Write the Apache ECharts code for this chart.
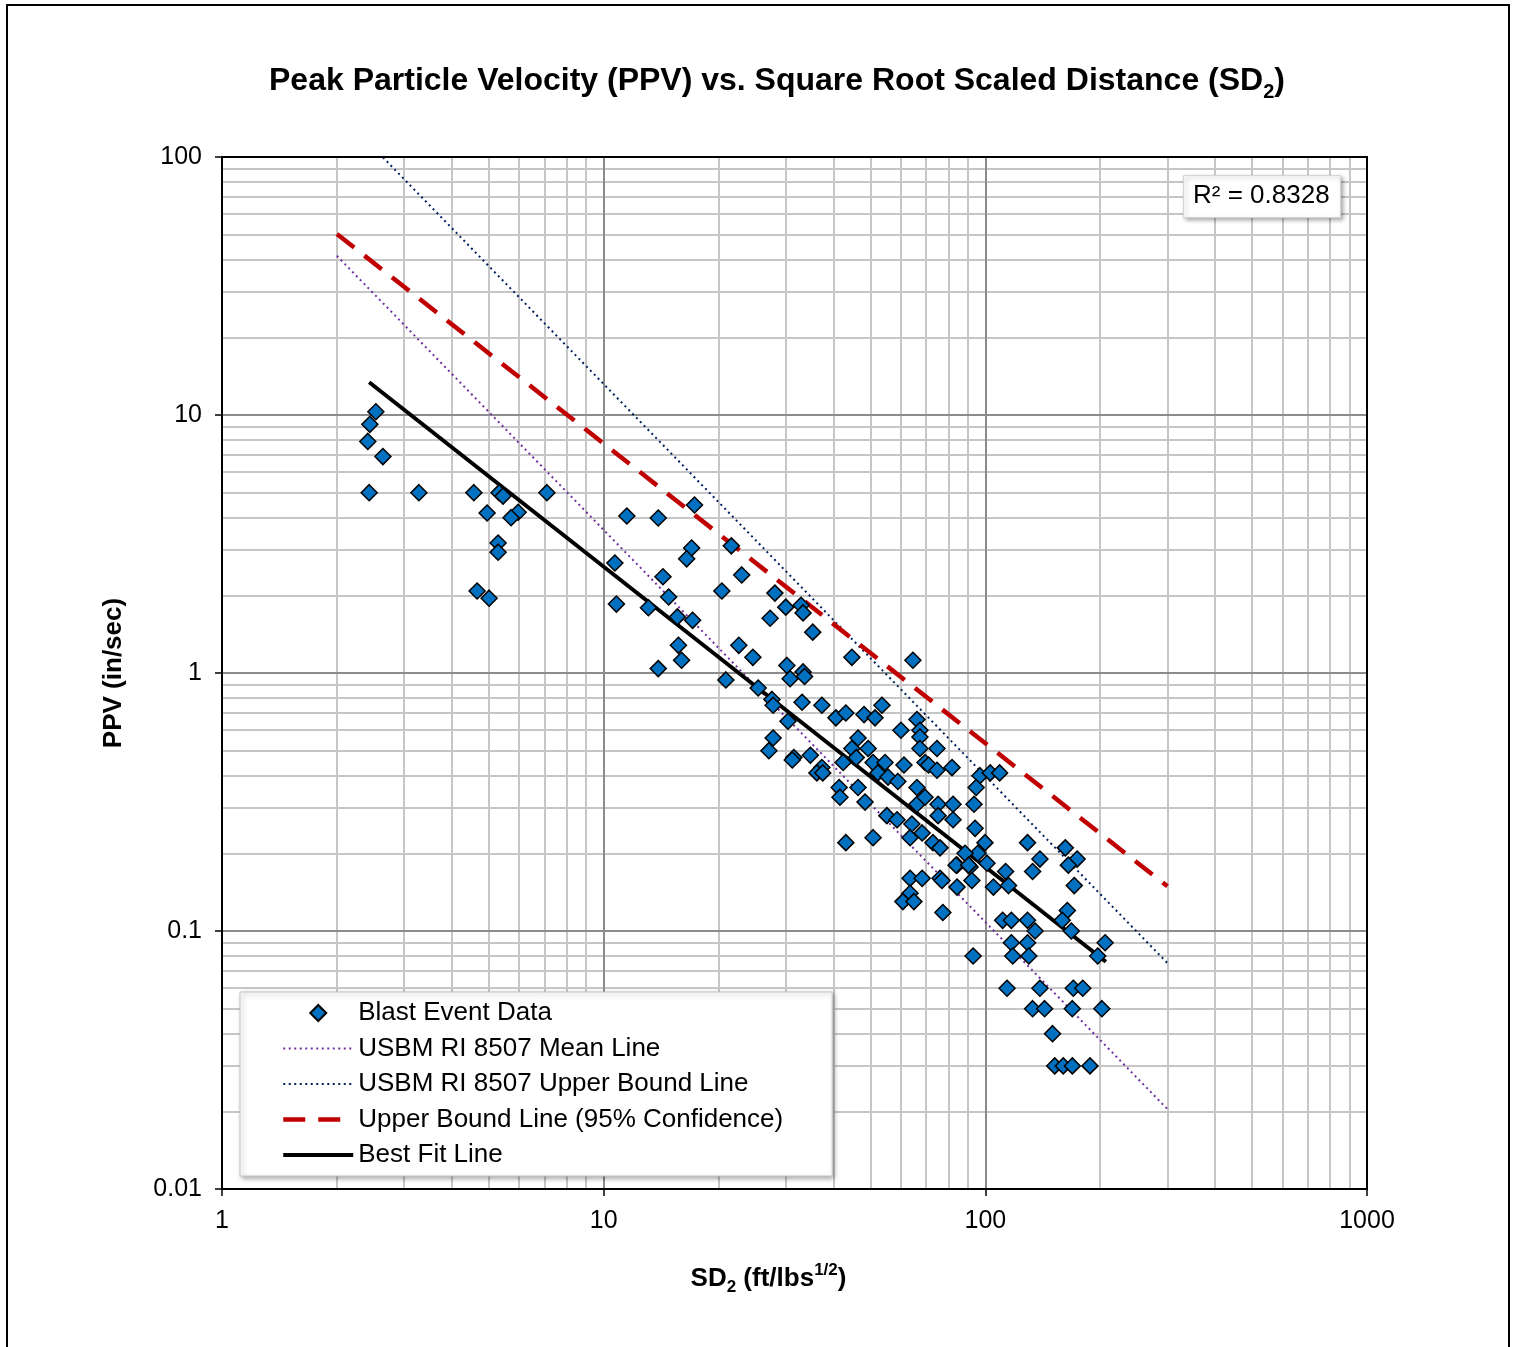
<!DOCTYPE html>
<html>
<head>
<meta charset="utf-8">
<title>PPV vs SD2</title>
<script src="https://cdn.jsdelivr.net/npm/echarts@6/dist/echarts.min.js"></script>
<style>
  html, body { margin: 0; padding: 0; background: #fff; }
  #main { width: 1519px; height: 1347px; }
</style>
</head>
<body>
<div id="main"></div>
<script>
// blast event data
const sdX = [
  2.53, 2.44, 2.41, 2.64, 2.43, 3.28, 4.57, 5.32, 5.45, 7.1, 4.95, 5.97, 5.72, 5.29, 5.29, 4.66, 5.01,
  17.3, 11.5, 13.9, 17.0, 16.5, 21.6, 10.7, 14.3, 23.0, 20.4, 14.8, 10.8, 13.1, 28.1, 30.0, 32.9, 33.3,
  27.3, 35.3, 15.6, 17.1, 15.7, 16.0, 13.9, 22.6, 24.6, 30.2, 30.8, 33.3, 33.6, 20.9, 25.4, 27.6, 27.8,
  33.1, 37.3, 44.7, 64.6,
  40.6, 43.1, 48.1, 51.4, 53.6, 66.2, 67.4, 60.1, 27.8, 27.1, 30.4, 31.5, 31.2, 34.8, 37.3, 36.2, 37.5,
  46.4, 44.7, 49.3, 45.9, 42.4, 50.8, 54.6, 52.3, 55.6, 61.2, 59.0, 67.4, 67.4, 74.7, 69.5, 71.0, 74.7,
  81.8, 41.4, 41.6, 46.4, 48.4, 66.2, 66.2, 69.5, 75.2, 75.2, 82.3, 82.3, 55.2, 58.7, 64.2, 63.5, 68.3,
  72.9, 76.1, 43.1, 50.8, 84.3, 91.2, 63.5, 68.3, 76.1,
  96.8, 103, 109, 94.6, 93.4, 94.0, 99.8, 95.6, 88.5, 83.8, 90.4, 101, 113, 105, 115, 84.3, 92.2, 77,
  63.5, 60.8, 65, 77.4, 129, 139, 133, 162, 174, 165, 171, 164, 159, 168, 111, 117, 129, 135, 117, 129, 206,
  197, 92.9, 118, 130, 114, 139, 170, 180, 133, 143, 169, 202, 150, 152, 160, 169, 188
];
const ppvY = [
  10.3, 9.2, 7.9, 6.9, 5.0, 5.0, 5.0, 5.0, 4.85, 5.0, 4.17, 4.2, 4.0, 3.19, 2.94, 2.08, 1.95,
  4.48, 4.06, 3.99, 3.05, 2.77, 3.11, 2.67, 2.36, 2.40, 2.08, 1.97, 1.85, 1.79, 2.04, 1.80, 1.83, 1.71,
  1.63, 1.44, 1.65, 1.60, 1.28, 1.12, 1.04, 1.28, 1.15, 1.07, 0.95, 1.01, 0.97, 0.94, 0.875, 0.79, 0.75,
  0.77, 0.75, 1.15, 1.12,
  0.67, 0.70, 0.69, 0.67, 0.75, 0.66, 0.60, 0.60, 0.56, 0.50, 0.65, 0.47, 0.46, 0.48, 0.43, 0.41, 0.41,
  0.56, 0.51, 0.51, 0.47, 0.45, 0.45, 0.45, 0.41, 0.395, 0.44, 0.38, 0.565, 0.51, 0.51, 0.45, 0.44, 0.42,
  0.43, 0.36, 0.33, 0.36, 0.316, 0.36, 0.31, 0.33, 0.31, 0.28, 0.31, 0.27, 0.28, 0.27, 0.26, 0.23, 0.24,
  0.22, 0.21, 0.22, 0.23, 0.18, 0.177, 0.16, 0.16, 0.16,
  0.40, 0.41, 0.41, 0.36, 0.31, 0.25, 0.22, 0.20, 0.20, 0.18, 0.18, 0.183, 0.17, 0.148, 0.15, 0.148, 0.157, 0.157,
  0.14, 0.13, 0.13, 0.118, 0.22, 0.19, 0.17, 0.21, 0.19, 0.18, 0.15, 0.12, 0.11, 0.10, 0.11, 0.11, 0.11, 0.10, 0.09, 0.09, 0.09,
  0.08, 0.08, 0.08, 0.08, 0.06, 0.06, 0.06, 0.06, 0.05, 0.05, 0.05, 0.05, 0.04, 0.03, 0.03, 0.03, 0.03
];

// straight lines on log-log, endpoints only
const refX = [2, 300];
const usbmMeanY = [41.4, 0.0204];
const usbmUpperY = [152, 0.0751];
const conf95Y = [50.3, 0.149];
const fitX = [2.43, 207];
const fitY = [13.4, 0.076];

const seriesNames = ['Blast Event Data', 'USBM RI 8507 Mean Line', 'USBM RI 8507 Upper Bound Line',
  'Upper Bound Line (95% Confidence)', 'Best Fit Line'];
const rSquared = 'R² = 0.8328';

const xMajor = [10, 100];
const yMajor = [0.1, 1, 10];
const steps = [2, 3, 4, 5, 6, 7, 8, 9];
const xMinor = [], yMinor = [];
[1, 10, 100].forEach(d => steps.forEach(s => xMinor.push(+(s * d).toPrecision(3))));
[0.01, 0.1, 1, 10].forEach(d => steps.forEach(s => yMinor.push(+(s * d).toPrecision(3))));

const FONT = '"Liberation Sans", Arial, sans-serif';
const zip = (a, b) => a.map((v, i) => [v, b[i]]);

const minorStyle = { color: '#c6c6c6', width: 2, type: 'solid' };
const majorStyle = { color: '#8c8c8c', width: 2, type: 'solid' };
const gridLines = []
  .concat(xMinor.map(v => ({ xAxis: v, lineStyle: minorStyle })))
  .concat(yMinor.map(v => ({ yAxis: v, lineStyle: minorStyle })))
  .concat(xMajor.map(v => ({ xAxis: v, lineStyle: majorStyle })))
  .concat(yMajor.map(v => ({ yAxis: v, lineStyle: majorStyle })));

// legend diamond: invisible move-to points widen the box so the diamond keeps its shape
const legendDiamond = 'path://M0,0 M70,16 M35,0 L43,8 L35,16 L27,8 Z';

const chart = echarts.init(document.getElementById('main'));

const logAxis = (min, max, pos, show, margin) => ({
  type: 'log', logBase: 10, min: min, max: max, position: pos, z: 5,
  axisLine: { show: true, lineStyle: { color: '#000', width: 2 } },
  axisTick: { show: show, length: 7, lineStyle: { color: '#000', width: 1.5 } },
  axisLabel: {
    show: show, color: '#000', fontSize: 25, fontFamily: FONT, margin: margin || 14,
    formatter: v => String(+(+v).toPrecision(3))
  },
  splitLine: { show: false },
  minorTick: { show: false },
  minorSplitLine: { show: false }
});

const xAxisMain = logAxis(1, 1000, 'bottom', true, 20);
xAxisMain.name = '{b|SD}{s|2}{b| (ft/lbs}{p|1/2}{b|)}';
xAxisMain.nameLocation = 'middle';
xAxisMain.nameGap = 73;
xAxisMain.nameTextStyle = {
  padding: [0, 52, 0, 0],
  rich: {
    b: { fontSize: 26, fontWeight: 'bold', fontFamily: FONT, color: '#000', lineHeight: 34 },
    s: { fontSize: 17, fontWeight: 'bold', fontFamily: FONT, color: '#000', verticalAlign: 'bottom', lineHeight: 24 },
    p: { fontSize: 17, fontWeight: 'bold', fontFamily: FONT, color: '#000', verticalAlign: 'top', lineHeight: 22 }
  }
};

const yAxisMain = logAxis(0.01, 100, 'left', true, 20);
yAxisMain.name = 'PPV (in/sec)';
yAxisMain.nameLocation = 'middle';
yAxisMain.nameGap = 95;
yAxisMain.nameTextStyle = { fontSize: 26, fontWeight: 'bold', fontFamily: FONT, color: '#000' };

const option = {
  animation: false,
  backgroundColor: '#fff',
  textStyle: { fontFamily: FONT },
  title: [
    {
      text: '{t|Peak Particle Velocity (PPV) vs. Square Root Scaled Distance (SD}{s|2}{t|)}',
      left: 264, top: 55,
      textStyle: {
        rich: {
          t: { fontSize: 32, fontWeight: 'bold', fontFamily: FONT, color: '#000', lineHeight: 42 },
          s: { fontSize: 20, fontWeight: 'bold', fontFamily: FONT, color: '#000', verticalAlign: 'bottom', lineHeight: 29 }
        }
      }
    },
    {
      text: rSquared,
      left: 1183, top: 175, z: 10,
      padding: [8, 11, 9, 10],
      backgroundColor: '#fff',
      borderColor: '#d4d4d4', borderWidth: 1,
      shadowBlur: 4, shadowOffsetX: 2, shadowOffsetY: 2, shadowColor: 'rgba(0,0,0,0.3)',
      textStyle: { fontSize: 26, fontWeight: 'normal', fontFamily: FONT, color: '#000' }
    }
  ],
  legend: {
    data: [{ name: seriesNames[0], icon: legendDiamond }].concat(seriesNames.slice(1)),
    orient: 'vertical',
    left: 240, top: 992, z: 10,
    padding: [8, 49, 8, 41],
    itemWidth: 70, itemHeight: 16, itemGap: 9.5,
    lineStyle: { width: 'inherit' },
    backgroundColor: '#fff',
    borderColor: '#c8c8c8', borderWidth: 1,
    shadowBlur: 5, shadowOffsetX: 2, shadowOffsetY: 2, shadowColor: 'rgba(0,0,0,0.35)',
    textStyle: { fontSize: 26, color: '#000', fontFamily: FONT, lineHeight: 24 }
  },
  grid: { left: 222, right: 152, top: 157, bottom: 158 },
  xAxis: [xAxisMain, logAxis(1, 1000, 'top', false)],
  yAxis: [yAxisMain, logAxis(0.01, 100, 'right', false)],
  graphic: [{
    type: 'rect', silent: true, z: -10,
    shape: { x: 7, y: 5, width: 1502, height: 1400 },
    style: { fill: 'none', stroke: '#000', lineWidth: 2 }
  }],
  series: [
    {
      name: 'gridlines', type: 'line', data: [], z: 1, silent: true,
      markLine: { z: 1, silent: true, symbol: 'none', label: { show: false }, animation: false, data: gridLines }
    },
    {
      name: seriesNames[1], type: 'line', data: zip(refX, usbmMeanY), symbol: 'none', z: 3,
      itemStyle: { opacity: 0 },
      lineStyle: { color: '#7030A0', width: 2, type: [2, 3.5] }
    },
    {
      name: seriesNames[2], type: 'line', data: zip(refX, usbmUpperY), symbol: 'none', z: 3,
      itemStyle: { opacity: 0 },
      lineStyle: { color: '#002060', width: 2, type: [2, 3.5] }
    },
    {
      name: seriesNames[3], type: 'line', data: zip(refX, conf95Y), symbol: 'none', z: 3,
      itemStyle: { opacity: 0 },
      lineStyle: { color: '#C00000', width: 4.5, type: [22, 13] }
    },
    {
      name: seriesNames[0], type: 'scatter', data: zip(sdX, ppvY), z: 4,
      symbol: 'diamond', symbolSize: 16,
      itemStyle: { color: '#0070C0', borderColor: '#000', borderWidth: 1.5, opacity: 1 }
    },
    {
      name: seriesNames[4], type: 'line', data: zip(fitX, fitY), symbol: 'none', z: 4,
      itemStyle: { opacity: 0 },
      lineStyle: { color: '#000', width: 4 }
    }
  ]
};

chart.setOption(option);
</script>
</body>
</html>
